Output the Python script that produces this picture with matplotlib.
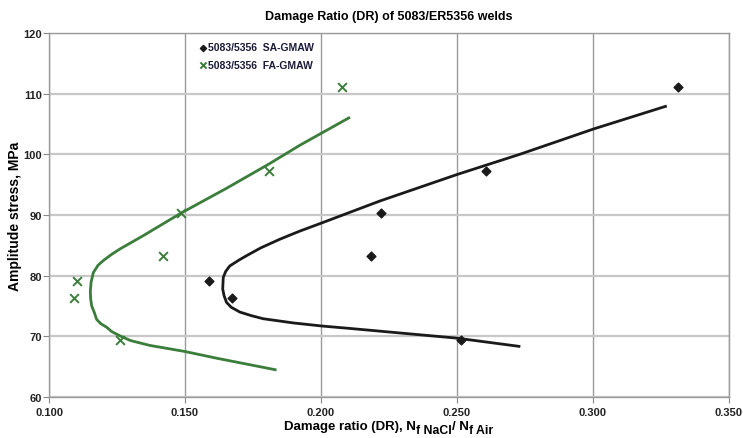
import matplotlib
matplotlib.use("Agg")
import matplotlib.pyplot as plt

plt.rcParams['font.family'] = ['Liberation Sans', 'DejaVu Sans']
plt.rcParams['font.weight'] = 'bold'

# measured points
sa_dr = [0.1588, 0.1673, 0.2184, 0.2221, 0.2515, 0.2609, 0.3314]
sa_stress = [79.1, 76.3, 83.2, 90.3, 69.4, 97.2, 111.1]
fa_dr = [0.1102, 0.1093, 0.1260, 0.1419, 0.1485, 0.1809, 0.2077]
fa_stress = [79.1, 76.3, 69.4, 83.3, 90.3, 97.2, 111.1]

# trend curves
sa_fit_dr = [0.2729, 0.2501, 0.2107, 0.2004, 0.1900, 0.1788, 0.1745, 0.1702, 0.1670,
             0.1653, 0.1644, 0.1639, 0.1640, 0.1641, 0.1650, 0.1665, 0.1700, 0.1727,
             0.1780, 0.1849, 0.1920, 0.2004, 0.2217, 0.2503, 0.2732, 0.3005, 0.3268]
sa_fit_stress = [68.35, 69.7, 71.3, 71.7, 72.2, 72.9, 73.4, 74.0, 74.8,
                 75.6, 76.7, 77.8, 78.8, 79.7, 80.7, 81.6, 82.6, 83.3,
                 84.6, 86.0, 87.3, 88.7, 92.3, 96.7, 100.0, 104.2, 107.9]
fa_fit_dr = [0.1832, 0.1616, 0.1500, 0.1371, 0.1300, 0.1260, 0.1230, 0.1212, 0.1190,
             0.1175, 0.1166, 0.1157, 0.1153, 0.1152, 0.1155, 0.1163, 0.1180, 0.1200,
             0.1230, 0.1261, 0.1347, 0.1485, 0.1653, 0.1809, 0.1923, 0.2103]
fa_fit_stress = [64.5, 66.4, 67.5, 68.5, 69.3, 70.1, 70.8, 71.5, 72.1,
                 72.8, 74.0, 75.0, 76.2, 77.5, 79.0, 80.5, 81.7, 82.5,
                 83.5, 84.4, 86.6, 90.3, 94.4, 98.4, 101.5, 106.0]

x_ticks = [0.100, 0.150, 0.200, 0.250, 0.300, 0.350]
y_ticks = [60, 70, 80, 90, 100, 110, 120]

# x label pieces: (text, is_subscript)
xlabel_parts = [('Damage ratio (DR), N', False), ('f NaCl', True),
                ('/ N', False), ('f Air', True)]

green = '#3b7d3b'
black = '#1a1a1a'

fig = plt.figure(figsize=(7.43, 4.39), dpi=100)
ax = fig.add_axes([0.066, 0.0934, 0.9145, 0.8292])

ax.plot(sa_fit_dr, sa_fit_stress, color=black, lw=2.0, zorder=3,
        solid_joinstyle='round')
ax.plot(fa_fit_dr, fa_fit_stress, color=green, lw=2.0, zorder=3,
        solid_joinstyle='round')
ax.scatter(sa_dr, sa_stress, marker='D', s=20, color=black, zorder=4,
           label='5083/5356  SA-GMAW')
ax.scatter(fa_dr, fa_stress, marker='x', s=40, color=green, linewidths=1.4, zorder=4,
           label='5083/5356  FA-GMAW')

ax.set_xlim(0.100, 0.350)
ax.set_ylim(60, 120)
ax.set_xticks(x_ticks)
ax.set_xticklabels(['%.3f' % v for v in x_ticks])
ax.set_yticks(y_ticks)
ax.tick_params(colors='#222222', length=4, width=0.8, color='#888888', labelsize=8)
ax.tick_params(axis='x', pad=3)
ax.tick_params(axis='y', pad=1)
ax.grid(axis='x', color='#9a9a9a', lw=1.0)
ax.grid(axis='y', color='#c8c8c8', lw=1.6)
ax.set_axisbelow(True)
for s in ax.spines.values():
    s.set_color('#9a9a9a')
    s.set_linewidth(1.0)

ax.set_title('Damage Ratio (DR) of 5083/ER5356 welds', fontsize=9, fontweight='bold', pad=10)
ax.set_ylabel('Amplitude stress, MPa', fontsize=10, fontweight='bold')
ax.yaxis.set_label_coords(-0.0397, 0.5)

leg = ax.legend(loc='upper left', bbox_to_anchor=(0.205, 1.0), frameon=False,
                fontsize=7.5, handletextpad=0.0, handlelength=1.0,
                labelspacing=0.75, borderpad=0.4, markerscale=0.7)
for t in leg.get_texts():
    t.set_color('#1a1a3a')

# x label with large subscripts, built piece by piece
fig.canvas.draw()
renderer = fig.canvas.get_renderer()
W, H = fig.bbox.width, fig.bbox.height
base_y = 1 - 430 / H
pieces = []
x = 0.0
for txt, sub in xlabel_parts:
    t = fig.text(x, base_y - (4 / H if sub else 0), txt,
                 fontsize=8.8 if sub else 9.5, fontweight='bold',
                 ha='left', va='baseline')
    bb = t.get_window_extent(renderer)
    pieces.append(t)
    x += bb.width / W
ax_bb = ax.get_position()
start = ax_bb.x0 + ax_bb.width / 2 - x / 2
for t in pieces:
    px, py = t.get_position()
    t.set_position((px + start, py))

fig.savefig('out.png', dpi=100)
